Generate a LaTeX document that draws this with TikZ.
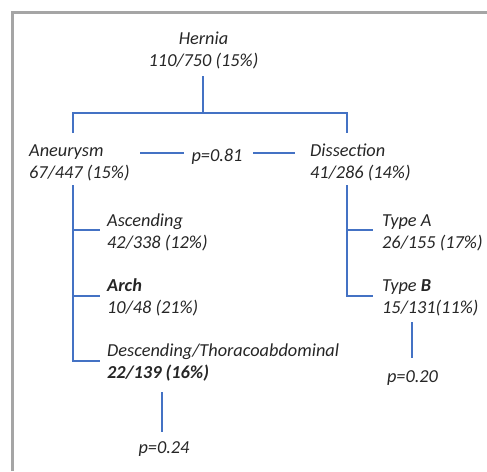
\documentclass[tikz,border=0pt]{standalone}
\usepackage{fontspec}
\setmainfont{Carlito}
\usetikzlibrary{positioning}
\definecolor{linkblue}{HTML}{4472C4}
\definecolor{framegray}{HTML}{A5A5A5}
\definecolor{textgray}{HTML}{262626}
\begin{document}
\begin{tikzpicture}[x=1pt,y=-1pt,
    txt/.style={font=\fontsize{18.3}{22}\selectfont\itshape, text=textgray,
      inner sep=0pt, align=left, anchor=base west},
    link/.style={linkblue, line width=1.1pt}]
    \useasboundingbox (0,0) rectangle (487,471);
    \draw[framegray, line width=3pt] (12,471) -- (12,12.5) -- (487,12.5);
    % text nodes (base = last line)
    \node[txt, align=center, anchor=base] (hernia) at (203.5,66) {Hernia\\110/750 (15\%)};
    \node[txt] (aneurysm) at (29,178) {Aneurysm\\67/447 (15\%)};
    \node[txt] (dissection) at (310,178) {Dissection\\41/286 (14\%)};
    \node[txt, anchor=base] (p081) at (217,161) {p=0.81};
    \node[txt] (ascending) at (107,248) {Ascending\\42/338 (12\%)};
    \node[txt] (arch) at (107,313) {\textbf{Arch}\\10/48 (21\%)};
    \node[txt] (descending) at (107,378) {Descending/Thoracoabdominal\\\textbf{22/139 (16\%)}};
    \node[txt] (typea) at (382,248) {Type A\\26/155 (17\%)};
    \node[txt] (typeb) at (382,313) {Type \textbf{B}\\15/131(11\%)};
    \node[txt, anchor=base] (p020) at (412.5,382) {p=0.20};
    \node[txt, anchor=base] (p024) at (164,453) {p=0.24};
    % junctions
    \coordinate (hernia-s) at (203,76);
    \coordinate (fork) at (203,113);
    \coordinate (aneurysm-n) at (73,133);
    \coordinate (dissection-n) at (347,133);
    \coordinate (aneurysm-s) at (73,185);
    \coordinate (dissection-s) at (347,185);
    \coordinate (ascending-w) at (100,230);
    \coordinate (arch-w) at (100,296);
    \coordinate (descending-w) at (100,361);
    \coordinate (typea-w) at (373,230);
    \coordinate (typeb-w) at (373,296);
    % connectors
    \draw[link] (hernia-s) -- (fork);
    \draw[link] (aneurysm-n) |- (fork) -| (dissection-n);
    \draw[link] (aneurysm-s) |- (descending-w);
    \draw[link] (aneurysm-s |- ascending-w) -- (ascending-w);
    \draw[link] (aneurysm-s |- arch-w) -- (arch-w);
    \draw[link] (dissection-s) |- (typeb-w);
    \draw[link] (dissection-s |- typea-w) -- (typea-w);
    \draw[link] (140,153) -- (184,153);
    \draw[link] (253,153) -- (295,153);
    \draw[link] (412,322) -- (412,358);
    \draw[link] (162,392) -- (162,432);
\end{tikzpicture}
\end{document}
